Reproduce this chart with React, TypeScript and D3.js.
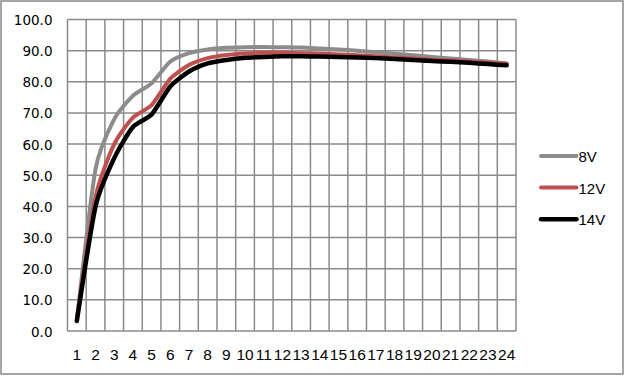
import React from "react";
import * as d3 from "d3";

const categories = Array.from({ length: 24 }, (_, i) => String(i + 1));
const v8 = [3.5, 52, 68, 75.5, 79.5, 86.5, 89.2, 90.4, 90.9, 91.1, 91.2, 91.1, 91, 90.7, 90.4, 90, 89.5, 89, 88.5, 88, 87.5, 87, 86.5, 85.9];
const v12 = [3.8, 43, 60, 68.5, 72.5, 81, 85.4, 87.6, 88.6, 89.1, 89.3, 89.3, 89.2, 89, 88.8, 88.5, 88.2, 87.8, 87.5, 87.1, 86.8, 86.5, 86.1, 85.8];
const v14 = [3.2, 40, 55.5, 65.5, 69.5, 78.5, 83.3, 85.9, 87, 87.7, 88, 88.2, 88.2, 88.1, 88, 87.8, 87.6, 87.3, 87, 86.7, 86.4, 86.1, 85.7, 85.3];
const yTicks = [0, 10, 20, 30, 40, 50, 60, 70, 80, 90, 100];

const series = [
  { name: "8V", values: v8, color: "#8c8c8c", width: 4 },
  { name: "12V", values: v12, color: "#c0504d", width: 4 },
  { name: "14V", values: v14, color: "#000000", width: 4.5 },
];

export default function App() {
  const W = 625, H = 376;
  const left = 67.5, right = 516, top = 19.5, bottom = 331;
  const xBand = d3.scaleBand().domain(categories).range([left, right]).paddingInner(0).paddingOuter(0);
  const y = d3.scaleLinear().domain([0, 100]).range([bottom, top]);
  const grid = "#8a8a8a";
  const line = d3
    .line<number>()
    .x((_, i) => (xBand(categories[i]) as number) + xBand.bandwidth() / 2)
    .y((d) => y(d))
    .curve(d3.curveCardinal.tension(0.35));

  const boundaries = categories.map((c) => xBand(c) as number).concat([right]);

  return (
    <svg width={W} height={H} style={{ position: "absolute", left: 0, top: 0, background: "#fff" }}>
      <rect x={1} y={1} width={622} height={373} fill="#fff" stroke="#888" strokeWidth={1.5} />
      {boundaries.map((bx, i) => (
        <line key={"v" + i} x1={bx} x2={bx} y1={top} y2={bottom} stroke={grid} strokeWidth={1.5} />
      ))}
      {yTicks.map((t) => (
        <line key={"h" + t} x1={left} x2={right} y1={y(t)} y2={y(t)} stroke={grid} strokeWidth={1.5} />
      ))}
      {yTicks.map((t) => (
        <text
          key={"yl" + t}
          x={52.5}
          y={y(t) + 0.5}
          textAnchor="end"
          dominantBaseline="central"
          fontFamily="DejaVu Sans"
          fontSize={13.5}
          fill="#000"
        >
          {t.toFixed(1)}
        </text>
      ))}
      {categories.map((c) => (
        <text
          key={"xl" + c}
          x={(xBand(c) as number) + xBand.bandwidth() / 2}
          y={354.5}
          textAnchor="middle"
          dominantBaseline="central"
          fontFamily="Liberation Sans"
          fontSize={15.5}
          fill="#000"
        >
          {c}
        </text>
      ))}
      {series.map((s) => (
        <path
          key={s.name}
          d={line(s.values) as string}
          fill="none"
          stroke={s.color}
          strokeWidth={s.width}
          strokeLinecap="round"
          strokeLinejoin="round"
        />
      ))}
      {series.map((s, i) => (
        <g key={"lg" + s.name}>
          <line
            x1={541}
            x2={576.5}
            y1={156 + i * 31.6}
            y2={156 + i * 31.6}
            stroke={s.color}
            strokeWidth={s.width}
            strokeLinecap="round"
          />
          <text
            x={578.5}
            y={156.5 + i * 31.6}
            dominantBaseline="central"
            fontFamily="Liberation Sans"
            fontSize={15}
            fill="#000"
          >
            {s.name}
          </text>
        </g>
      ))}
    </svg>
  );
}
